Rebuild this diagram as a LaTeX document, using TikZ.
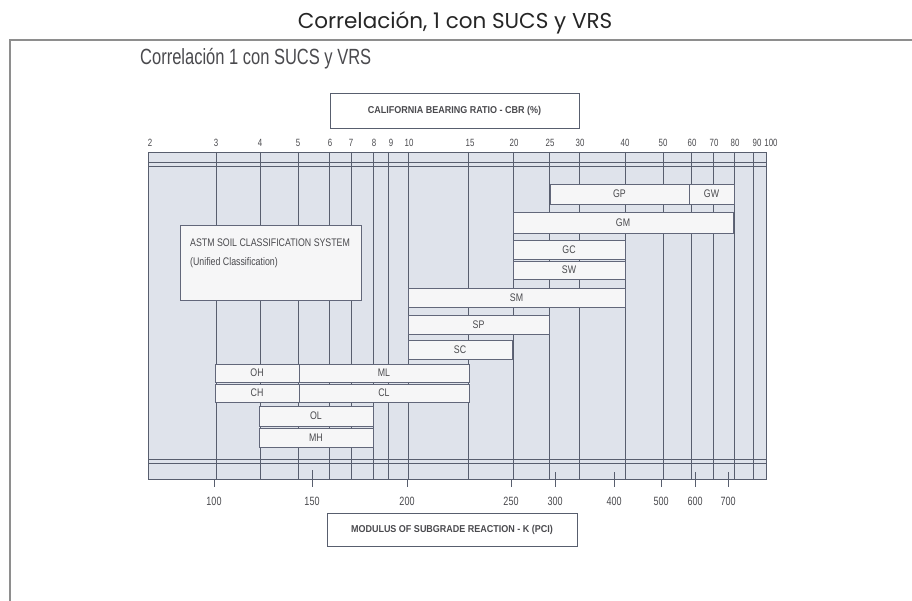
\documentclass[tikz,border=0pt]{standalone}
\usepackage{fontspec}
\setmainfont{Liberation Sans}
\newfontfamily\headfont{Poppins}
\newfontfamily\titlenarrow[FakeStretch=0.75]{Liberation Sans}
\newfontfamily\cellfont[FakeStretch=0.8]{Liberation Sans}
\newfontfamily\tickfont[FakeStretch=0.75]{Liberation Sans}
\newfontfamily\axisfont[FakeStretch=0.9]{Liberation Sans}

\definecolor{chartbg}{HTML}{DFE3EB}
\definecolor{cellbg}{HTML}{F6F6F7}
\definecolor{gridc}{HTML}{585E6E}
\definecolor{cellline}{HTML}{62677A}
\definecolor{inktext}{HTML}{4A4A4E}
\definecolor{framec}{HTML}{8E8E8E}

\tikzset{
  grid/.style={draw=gridc, line width=0.8pt},
  soil/.style={draw=cellline, fill=cellbg, line width=0.7pt, inner sep=0pt, outer sep=0pt,
    text=inktext, font=\cellfont\fontsize{11}{13}\selectfont},
  axisbox/.style={draw=gridc, fill=white, line width=0.9pt, inner sep=0pt, outer sep=0pt,
    text=inktext, font=\axisfont\bfseries\fontsize{10}{12}\selectfont},
  cbrlab/.style={anchor=base, inner sep=0pt, text=inktext, font=\tickfont\fontsize{10.5}{12}\selectfont},
  klab/.style={anchor=base, inner sep=0pt, text=inktext, font=\tickfont\fontsize{12}{14}\selectfont},
  legendtext/.style={anchor=base west, inner sep=0pt, text=inktext, font=\cellfont\fontsize{11}{13}\selectfont},
}

% box from (x1,y1) to (x2,y2), page coordinates in pixels
\newcommand\soilcell[7][soil]{\node[#1, minimum width={#5-#3}, minimum height={#6-#4}]
  (#2) at ({(#3+#5)/2},{(#4+#6)/2}) {#7};}

\begin{document}
\begin{tikzpicture}[x=1pt,y=-1pt]
\useasboundingbox (0,0) rectangle (912,601);
\fill[white] (0,0) rectangle (912,601);

% page heading and frame
\node[anchor=base, inner sep=0pt, text=black!85, font=\headfont\fontsize{21.5}{26}\selectfont]
  (heading) at (455,29) {Correlación, 1 con SUCS y VRS};
\draw[framec, line width=1.5pt] (912,40) -- (10,40) -- (10,601);

\node[anchor=base west, inner sep=0pt, text=inktext, font=\titlenarrow\fontsize{22}{26}\selectfont]
  (charttitle) at (140,65) {Correlación 1 con SUCS y VRS};

% CBR caption
\soilcell[axisbox]{cbrbox}{330}{93}{579}{128}{CALIFORNIA BEARING RATIO - CBR (\%)}

% chart field
\fill[chartbg] (148,152) rectangle (766,479);
\foreach \x in {216,260,298,329,351,373,388,408,468,513,549,579,625,663,691,713,734,753}{
  \draw[grid] (\x,152) -- (\x,479);
}
\foreach \x/\t in {150/2,216/3,260/4,298/5,330/6,351/7,374/8,391/9,409/10,470/15,514/20,550/25,580/30,625/40,663/50,692/60,714/70,735/80,757/90,771/100}{
  \node[cbrlab] (cbr-\t) at (\x,147) {\t};
}
\draw[grid] (148,152) rectangle (766,479);
\draw[grid] (148,162) -- (766,162);
\draw[grid] (148,166) -- (766,166);
\draw[grid] (148,459) -- (766,459);
\draw[grid] (148,463) -- (766,463);

% soil groups
\soilcell{gp}{550}{184}{689}{204}{GP}
\soilcell{gw}{689}{184}{734}{204}{GW}
\soilcell{gm}{513}{212}{733}{233}{GM}
\soilcell{gc}{513}{240}{625}{259}{GC}
\soilcell{sw}{513}{261}{625}{279}{SW}
\soilcell{sm}{408}{288}{625}{307}{SM}
\soilcell{sp}{408}{315}{549}{334}{SP}
\soilcell{sc}{408}{340}{512}{359}{SC}
\soilcell{oh}{215}{364}{299}{382}{OH}
\soilcell{ml}{299}{364}{469}{382}{ML}
\soilcell{ch}{215}{384}{299}{402}{CH}
\soilcell{cl}{299}{384}{469}{402}{CL}
\soilcell{ol}{259}{406}{373}{426}{OL}
\soilcell{mh}{259}{428}{373}{447}{MH}

% classification legend
\soilcell{astm}{180}{225}{361}{300}{}
\node[legendtext] (astm-a) at (190,247) {ASTM SOIL CLASSIFICATION SYSTEM};
\node[legendtext] (astm-b) at (190,266) {(Unified Classification)};

% k scale
\foreach \x/\t/\s in {214/100/479,312/150/470,407/200/479,511/250/479,555/300/472,614/400/472,661/500/479,695/600/472,728/700/472}{
  \draw[grid] (\x,\s) -- (\x,487);
  \node[klab] (k-\t) at (\x,505) {\t};
}
\soilcell[axisbox]{kbox}{327}{513}{577}{546}{MODULUS OF SUBGRADE REACTION - K (PCI)}
\end{tikzpicture}
\end{document}
